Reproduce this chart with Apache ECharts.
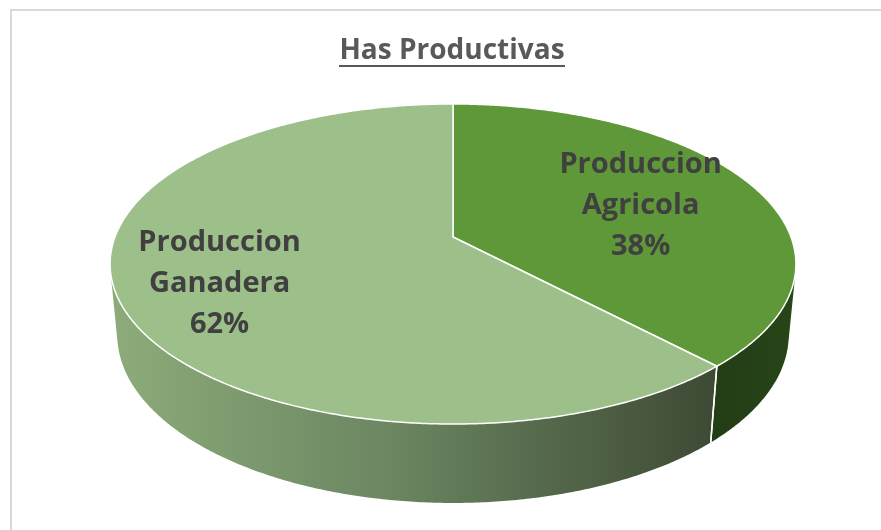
<!DOCTYPE html>
<html>
<head>
<meta charset="utf-8">
<script src="https://cdn.jsdelivr.net/npm/echarts@6/dist/echarts.min.js"></script>
<style>
  html, body { margin: 0; padding: 0; background: #ffffff; }
  #chart { width: 881px; height: 530px; }
</style>
</head>
<body>
<div id="chart"></div>
<script>
// ---- data ----
const categories = ['Produccion Agricola', 'Produccion Ganadera'];
const values = [38, 62];
const titleText = 'Has Productivas';

// ---- styles ----
const topColors = ['#5f9839', '#9dc08b'];
const wallColors = [
  { type: 'linear', x: 700, y: 0, x2: 800, y2: 0, global: true,
    colorStops: [{ offset: 0, color: '#223b14' }, { offset: 1, color: '#284619' }] },
  { type: 'linear', x: 111, y: 0, x2: 718, y2: 0, global: true,
    colorStops: [{ offset: 0, color: '#8dab7a' }, { offset: 0.45, color: '#6c8762' }, { offset: 1, color: '#3d4934' }] }
];
const labelRadius = [0.62, 0.71];
const labelShiftY = [3, 4];

// ---- 3D projection parameters (perspective pie) ----
const CX = 453, CY = 237, F = 338;
const SIN_A = 0.46, COS_A = Math.sqrt(1 - SIN_A * SIN_A);
const KD = 0.19;        // radius / camera distance
const H = 0.237;        // thickness relative to radius

function proj(theta, r, yLevel) {
  const X = r * Math.sin(theta);
  const Z = -r * Math.cos(theta);
  const v = Z * SIN_A - yLevel * COS_A;
  const depth = Z * COS_A + yLevel * SIN_A;
  const s = 1 / (1 - KD * depth);
  return [CX + F * X * s, CY + F * v * s];
}

const total = values.reduce((a, b) => a + b, 0);
const starts = [];
(function () { let acc = 0; values.forEach(v => { starts.push(acc / total * Math.PI * 2); acc += v; }); })();

// visible wall range: cos(theta) < -KD / COS_A
const visC = Math.acos(-KD / COS_A);
const vis0 = visC, vis1 = Math.PI * 2 - visC;

function arcPts(a0, a1, yLevel) {
  const pts = [];
  const n = Math.max(2, Math.ceil((a1 - a0) / (Math.PI / 360)));
  for (let k = 0; k <= n; k++) {
    const a = a0 + (a1 - a0) * k / n;
    pts.push(proj(a, 1, yLevel));
  }
  return pts;
}

function renderItem(params, api) {
  const i = params.dataIndex;
  const v = api.value(0);
  const a0 = starts[i];
  const a1 = a0 + v / total * Math.PI * 2;
  const children = [];

  // top face
  const topPts = [[CX, CY]].concat(arcPts(a0, a1, 0));
  children.push({
    type: 'polygon', z2: 10,
    shape: { points: topPts },
    style: { fill: topColors[i], stroke: '#ffffff', lineWidth: 1.5, lineJoin: 'round' }
  });

  // outer wall
  const w0 = Math.max(a0, vis0), w1 = Math.min(a1, vis1);
  if (w1 > w0) {
    const tp = arcPts(w0, w1, 0);
    const bp = arcPts(w0, w1, -H).reverse();
    children.push({
      type: 'polygon', z2: 1,
      shape: { points: tp.concat(bp) },
      style: { fill: wallColors[i] }
    });
  }
  // slice edge on wall
  [a0, a1].forEach(a => {
    if (a > vis0 && a < vis1) {
      const p1 = proj(a, 1, 0), p2 = proj(a, 1, -H);
      children.push({
        type: 'line', z2: 5,
        shape: { x1: p1[0], y1: p1[1], x2: p2[0], y2: p2[1] },
        style: { stroke: '#ffffff', lineWidth: 1.5 }
      });
    }
  });

  // label
  const mid = (a0 + a1) / 2;
  const lp = proj(mid, labelRadius[i], 0);
  const pct = Math.round(v / total * 100) + '%';
  children.push({
    type: 'text', z2: 20,
    style: {
      text: categories[i].split(' ').join('\n') + '\n' + pct,
      x: lp[0], y: lp[1] + labelShiftY[i],
      align: 'center', verticalAlign: 'middle',
      fontFamily: 'Open Sans', fontWeight: 'bold', fontSize: 29,
      lineHeight: 41,
      fill: '#404040'
    }
  });

  return { type: 'group', children: children };
}

const chart = echarts.init(document.getElementById('chart'), null, { renderer: 'canvas' });
chart.setOption({
  backgroundColor: '#ffffff',
  animation: false,
  graphic: [
    { type: 'rect', z: -10, shape: { x: 11, y: 10, width: 900, height: 600 },
      style: { fill: '#ffffff', stroke: '#d9d9d9', lineWidth: 2 } },
    { type: 'text', z: 10, style: {
        text: titleText, x: 452, y: 51, align: 'center', verticalAlign: 'middle',
        fontFamily: 'Open Sans', fontWeight: 'bold', fontSize: 28, fill: '#595959' } },
    { type: 'line', z: 10, shape: { x1: 339, y1: 66, x2: 565, y2: 66 },
      style: { stroke: '#595959', lineWidth: 2 } }
  ],
  series: [{
    type: 'custom',
    coordinateSystem: 'none',
    renderItem: renderItem,
    data: values.map((v, i) => ({ name: categories[i], value: [v] }))
  }]
});
</script>
</body>
</html>
